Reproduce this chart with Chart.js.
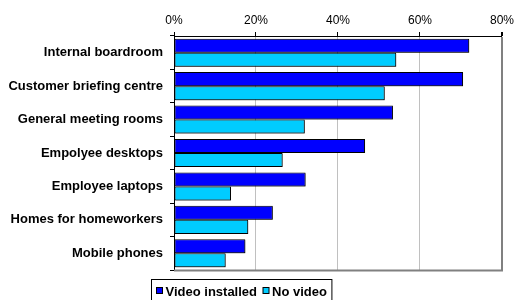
<!DOCTYPE html>
<html>
<head>
<meta charset="utf-8">
<script src="https://cdn.jsdelivr.net/npm/chart.js@4/dist/chart.umd.min.js"></script>
<style>
  html, body { margin: 0; padding: 0; background: #fff; }
  #wrap { width: 518px; height: 300px; }
</style>
</head>
<body>
<div id="wrap"><canvas id="chart" width="518" height="300"></canvas></div>
<script>
// Categories and values (fractions)
const categories = [
    'Internal boardroom',
    'Customer briefing centre',
    'General meeting rooms',
    'Empolyee desktops',
    'Employee laptops',
    'Homes for homeworkers',
    'Mobile phones'
];
const videoInstalled = [0.72, 0.705, 0.534, 0.466, 0.321, 0.241, 0.174];
const noVideo = [0.542, 0.514, 0.319, 0.265, 0.139, 0.181, 0.126];
const seriesNames = ['Video installed', 'No video'];
const seriesColors = ['#0000FF', '#00CCFF'];
const xTicks = [0, 0.2, 0.4, 0.6, 0.8];

const FONT = '"Liberation Sans", Arial, sans-serif';

// Grey frame on the right and bottom of the plot area, plus bar shadows
const framePlugin = {
    id: 'frame',
    beforeDatasetsDraw(chart) {
        const ctx = chart.ctx;
        ctx.save();
        ctx.shadowColor = 'rgba(0,0,0,0.45)';
        ctx.shadowOffsetX = 1;
        ctx.shadowOffsetY = 1;
        ctx.shadowBlur = 0;
    },
    afterDatasetsDraw(chart) {
        chart.ctx.restore();
    },
    afterDraw(chart) {
        const ctx = chart.ctx;
        const a = chart.chartArea;
        ctx.save();
        ctx.strokeStyle = '#808080';
        ctx.lineWidth = 2;
        ctx.beginPath();
        ctx.moveTo(a.left, a.bottom + 0.5);
        ctx.lineTo(a.right + 1, a.bottom + 0.5);
        ctx.stroke();
        ctx.restore();
    }
};

// Boxed legend under the plot, like the Excel one
const boxLegend = {
    id: 'boxLegend',
    afterDraw(chart) {
        const ctx = chart.ctx;
        ctx.save();
        ctx.font = 'bold 13px ' + FONT;
        ctx.textBaseline = 'middle';
        const x0 = 151.5, y0 = 279.5;
        let x = x0 + 5;
        const midY = 291;
        chart.data.datasets.forEach((ds, i) => {
            ctx.fillStyle = ds.backgroundColor;
            ctx.fillRect(x, midY - 3.5, 6, 6);
            ctx.strokeStyle = '#000';
            ctx.lineWidth = 1;
            ctx.strokeRect(x, midY - 3.5, 6, 6);
            ctx.fillStyle = '#000';
            ctx.fillText(ds.label, x + 9, midY + 1);
            x += 9 + ctx.measureText(ds.label).width + 6;
        });
        ctx.strokeStyle = '#000';
        ctx.lineWidth = 1;
        ctx.strokeRect(x0, y0, x - x0 - 1, 30);
        ctx.restore();
    }
};

const ctx = document.getElementById('chart').getContext('2d');
new Chart(ctx, {
    type: 'bar',
    data: {
        labels: categories,
        datasets: [
            {
                label: seriesNames[0],
                data: videoInstalled,
                backgroundColor: seriesColors[0],
                borderColor: '#000',
                borderWidth: 1,
                borderSkipped: false
            },
            {
                label: seriesNames[1],
                data: noVideo,
                backgroundColor: seriesColors[1],
                borderColor: '#000',
                borderWidth: 1,
                borderSkipped: false
            }
        ]
    },
    options: {
        indexAxis: 'y',
        responsive: false,
        animation: false,
        devicePixelRatio: 1,
        layout: { padding: { left: 0, right: 12, top: 0, bottom: 30 } },
        datasets: {
            bar: { categoryPercentage: 0.84, barPercentage: 1 }
        },
        plugins: {
            legend: { display: false },
            tooltip: { enabled: false }
        },
        scales: {
            x: {
                position: 'top',
                min: 0,
                max: 0.8,
                afterBuildTicks: scale => {
                    scale.ticks = xTicks.map(v => ({ value: v }));
                },
                afterFit: scale => { scale.height = 36; },
                ticks: {
                    color: '#000',
                    font: { family: FONT, size: 12 },
                    padding: 4,
                    callback: v => Math.round(v * 100) + '%'
                },
                grid: {
                    color: c => c.tick.value === 0 ? 'rgba(0,0,0,0)' : (c.tick.value >= 0.8 ? '#808080' : '#c0c0c0'),
                    lineWidth: c => c.tick.value >= 0.8 ? 2 : 1,
                    tickColor: '#000',
                    tickLength: 4
                },
                border: { color: '#000', width: 1 }
            },
            y: {
                afterFit: scale => { scale.width = 174; },
                ticks: {
                    color: '#000',
                    font: { family: FONT, size: 13, weight: 'bold' },
                    padding: 7
                },
                grid: {
                    drawOnChartArea: false,
                    offset: true,
                    tickColor: '#000',
                    tickLength: 4
                },
                border: { color: '#000', width: 1 }
            }
        }
    },
    plugins: [framePlugin, boxLegend]
});
</script>
</body>
</html>
